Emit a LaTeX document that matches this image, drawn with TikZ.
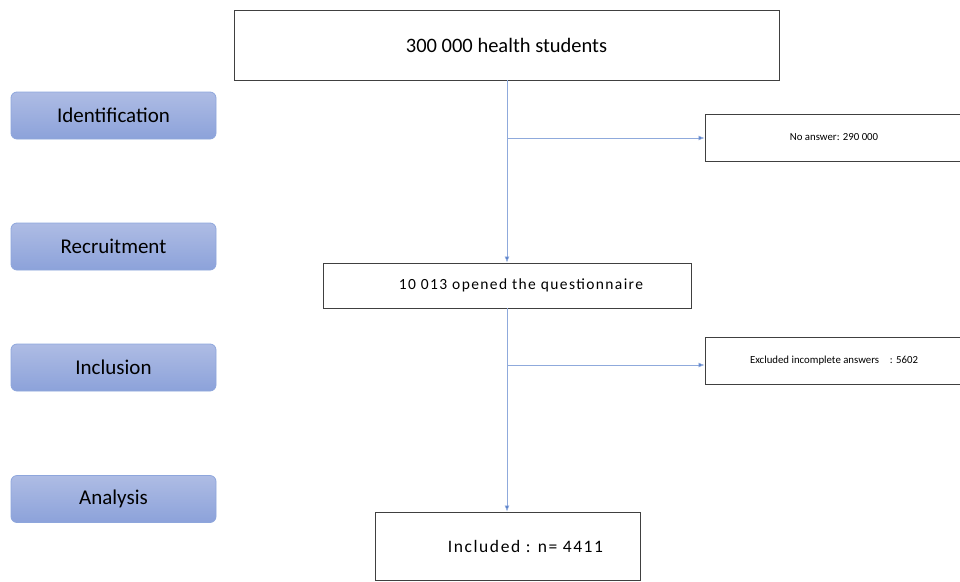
\documentclass[tikz,border=0pt]{standalone}
\usepackage{fontspec}
\usetikzlibrary{arrows.meta}
\setmainfont{Carlito}
\newfontfamily\spacedfont[LetterSpace=9]{Carlito}
\definecolor{linkblue}{HTML}{4472C4}
\definecolor{phasetop}{HTML}{AEBCE4}
\definecolor{phasebot}{HTML}{8CA2DA}
\definecolor{phaseline}{HTML}{8EA6DC}

\begin{document}
\begin{tikzpicture}
	[x=1pt, y=-1pt,
	every node/.style={draw=black!75, line width=0.9pt, inner sep=0pt, align=center},
	phase/.style={draw=phaseline, line width=0.8pt, rounded corners=6pt, top color=phasetop, bottom color=phasebot, minimum width=205pt, minimum height=47pt, font=\fontsize{21}{23}\selectfont},
	count/.style={minimum height=46pt},
	side/.style={minimum width=258pt, minimum height=47pt, font=\fontsize{10.8}{12}\selectfont},
	link/.style={draw=linkblue!60, line width=0.7pt},
	arrow/.style={link, -{Latex[length=6pt, width=5pt, fill=linkblue]}}]
	\useasboundingbox (0,0) rectangle (960,581);
	\node (all) [count, minimum width=545pt, minimum height=70pt, font=\fontsize{20.5}{22}\selectfont] at (506.5,45) {300 000 health students};
	\node (noans) [side] at (834,137.5) {No answer: 290 000};
	\node (opened) [count, minimum width=368pt, minimum height=45pt, font=\spacedfont\fontsize{15.5}{18}\selectfont] at (507,285.5) {\hspace*{28pt}10 013 opened the questionnaire};
	\node (excl) [side] at (834,360.5) {Excluded incomplete answers\quad : 5602};
	\node (incl) [count, minimum width=265pt, minimum height=68pt, font=\spacedfont\fontsize{17.5}{19}\selectfont] at (507.5,546) {\hspace*{36pt}Included : n= 4411};
	% phases
	\node (ident) [phase] at (113.5,115.5) {Identification};
	\node (recr) [phase] at (113.5,246.5) {Recruitment};
	\node (inclu) [phase] at (113.5,367.5) {Inclusion};
	\node (anal) [phase] at (113.5,499) {Analysis};
	% connectors
	\coordinate (b1) at (507,138);
	\coordinate (b2) at (507,365);
	\draw [arrow] (all.south -| b1) -- (opened.north -| b1);
	\draw [arrow] (b1) -- (b1 -| noans.west);
	\draw [arrow] (opened.south -| b2) -- (incl.north -| b2);
	\draw [arrow] (b2) -- (b2 -| excl.west);
\end{tikzpicture}
\end{document}
